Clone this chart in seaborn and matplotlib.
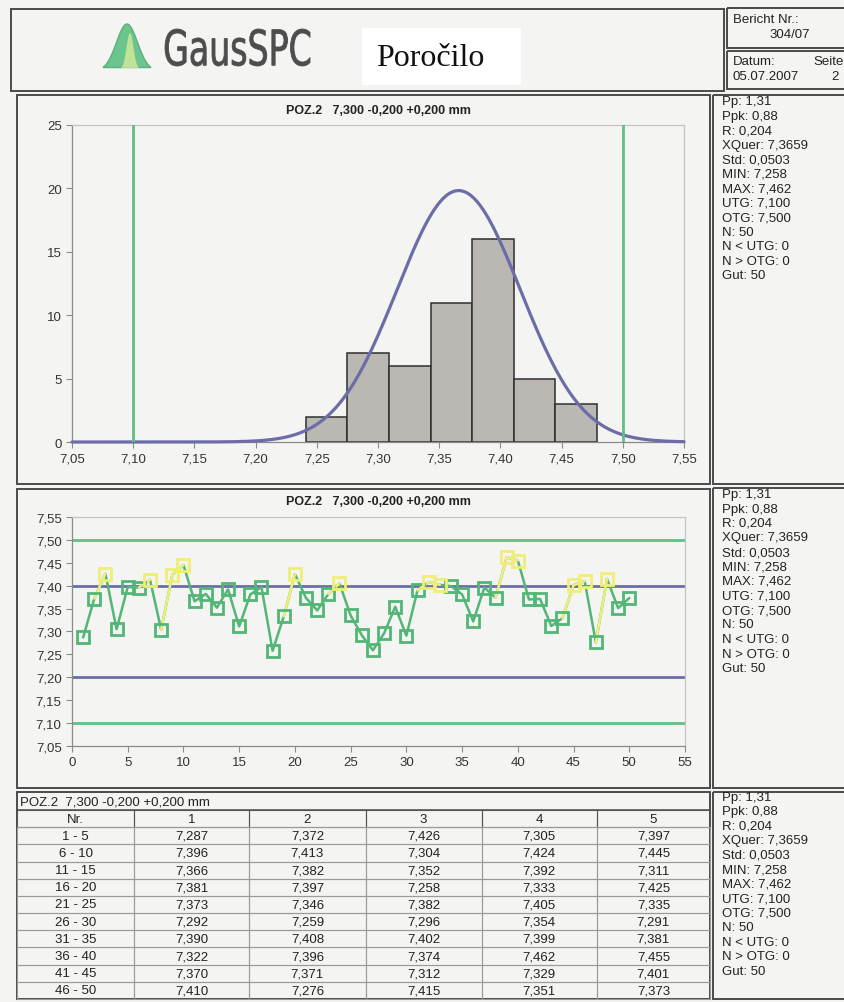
import matplotlib
matplotlib.use("Agg")
import matplotlib.pyplot as plt
import numpy as np
import pandas as pd
import seaborn as sns
from matplotlib.font_manager import FontProperties
from matplotlib.patches import PathPatch, Polygon, Rectangle
from matplotlib.textpath import TextPath
from matplotlib.ticker import FuncFormatter, MultipleLocator
from matplotlib.transforms import Affine2D

# Messwerte POZ.2 (Tabelle, je Zeile 5 Werte)
messwerte = [
    7.287, 7.372, 7.426, 7.305, 7.397,
    7.396, 7.413, 7.304, 7.424, 7.445,
    7.366, 7.382, 7.352, 7.392, 7.311,
    7.381, 7.397, 7.258, 7.333, 7.425,
    7.373, 7.346, 7.382, 7.405, 7.335,
    7.292, 7.259, 7.296, 7.354, 7.291,
    7.390, 7.408, 7.402, 7.399, 7.381,
    7.322, 7.396, 7.374, 7.462, 7.455,
    7.370, 7.371, 7.312, 7.329, 7.401,
    7.410, 7.276, 7.415, 7.351, 7.373,
]
zeilen_nr = ['1 - 5', '6 - 10', '11 - 15', '16 - 20', '21 - 25',
             '26 - 30', '31 - 35', '36 - 40', '41 - 45', '46 - 50']
spalten = ['Nr.', '1', '2', '3', '4', '5']
kennwerte = ['Pp: 1,31', 'Ppk: 0,88', 'R: 0,204', 'XQuer: 7,3659', 'Std: 0,0503',
             'MIN: 7,258', 'MAX: 7,462', 'UTG: 7,100', 'OTG: 7,500', 'N: 50',
             'N < UTG: 0', 'N > OTG: 0', 'Gut: 50']
titel = 'POZ.2   7,300 -0,200 +0,200 mm'
utg, otg = 7.100, 7.500
eingriff = [7.20, 7.40]
xquer, std = 7.3659, 0.0503
klassen = np.linspace(7.241, 7.479, 8)  # Klassengrenzen Histogramm

W, H = 845, 1003
PAGE = '#f4f4f2'
GRUEN = '#5fbf85'
GELB = '#eeee78'
BLAU = '#6c6da8'
RAHMEN = '#4a4a4a'

sns.set_theme(style='ticks')
plt.rcParams['font.family'] = ['Liberation Sans', 'DejaVu Sans']

fig = plt.figure(figsize=(W / 100, H / 100), dpi=100, facecolor=PAGE)


def px_axes(l, t, r, b):
    return fig.add_axes([l / W, 1 - b / H, (r - l) / W, (b - t) / H])


def komma(fmt):
    return FuncFormatter(lambda v, _: format(v, fmt).replace('.', ','))


# Hintergrund / Rahmen in Pixelkoordinaten
bg = fig.add_axes([0, 0, 1, 1])
bg.set_xlim(0, W)
bg.set_ylim(H, 0)
bg.axis('off')
bg.set_zorder(-1)

boxen = [(11, 10, 724, 92), (727, 9, 850, 49), (727, 52, 850, 90),
         (17, 96, 710, 485), (713, 96, 850, 485),
         (17, 490, 710, 789), (713, 489, 850, 789),
         (17, 793, 710, 1000), (713, 793, 850, 1000)]
for l, t, r, b in boxen:
    bg.add_patch(Rectangle((l, t), r - l, b - t, fill=False, ec=RAHMEN, lw=1.4))

# Kopf: Logo
xs = np.linspace(-1, 1, 60)
glocke = np.column_stack([127 + 24 * xs, 72 - 47 * np.exp(-2.6 * xs ** 2)])
bg.add_patch(Polygon(glocke, closed=True, fc='#6cc58e', ec='#58b27a', lw=1))
innen = np.column_stack([130 + 9 * xs, 70 - 36 * np.exp(-3.5 * xs ** 2)])
bg.add_patch(Polygon(innen, closed=True, fc='#d6ec9a', ec='none', alpha=0.8))

tp = TextPath((0, 0), 'GausSPC', size=40, prop=FontProperties(family='DejaVu Sans'))
ext = tp.get_extents()
tr = (Affine2D().translate(-ext.x0, -ext.y0)
      .scale(145 / ext.width, -37 / ext.height).translate(165, 67))
bg.add_patch(PathPatch(tp, transform=tr + bg.transData, fc='#4d4d4d', ec='#4d4d4d', lw=0.6))

bg.add_patch(Rectangle((362, 29), 159, 57, fc='white', ec='none'))
bg.text(430, 58, 'Poročilo', family='Liberation Serif', fontsize=23,
        ha='center', va='center', color='#111')

kopf = dict(fontsize=9.5, color='#222', va='center')
bg.text(733, 20, 'Bericht Nr.:', ha='left', **kopf)
bg.text(790, 35, '304/07', ha='center', **kopf)
bg.text(733, 62, 'Datum:', ha='left', **kopf)
bg.text(813, 62, 'Seite:', ha='left', **kopf)
bg.text(733, 77, '05.07.2007', ha='left', **kopf)
bg.text(835, 77, '2', ha='center', **kopf)

# Kennwerte rechts
for y0 in (102, 495, 798):
    for i, s in enumerate(kennwerte):
        bg.text(722, y0 + i * 14.5, s, fontsize=9.5, color='#222', va='center', ha='left')


def stil(ax):
    ax.set_facecolor(PAGE)
    for s in ('top', 'right'):
        ax.spines[s].set_color('#c4c4c4')
    for s in ('left', 'bottom'):
        ax.spines[s].set_color('#8a8a8a')
    for s in ax.spines.values():
        s.set_linewidth(0.9)
    ax.tick_params(direction='out', length=4, width=0.8, color='#8a8a8a',
                   labelsize=9.5, labelcolor='#333', bottom=True, left=True)
    ax.set(xlabel='', ylabel='')
    ax.set_title(titel, fontsize=9, fontweight='bold', color='#222', pad=9)


# Histogramm
ax1 = px_axes(72, 126, 684, 443)
sns.histplot(x=messwerte, bins=klassen, color='#bbb7b3', edgecolor='#2e2e2e',
             linewidth=1.1, alpha=1, ax=ax1, zorder=2)
x_kurve = np.linspace(7.05, 7.55, 400)
y_kurve = len(messwerte) * 0.05 * np.exp(-0.5 * ((x_kurve - xquer) / std) ** 2) / (std * np.sqrt(2 * np.pi))
sns.lineplot(x=x_kurve, y=y_kurve, color=BLAU, lw=2.3, ax=ax1, zorder=3, clip_on=False)
for g in (utg, otg):
    ax1.axvline(g, color=GRUEN, lw=2, zorder=4)
ax1.set_xlim(7.05, 7.55)
ax1.set_ylim(0, 25)
ax1.xaxis.set_major_locator(MultipleLocator(0.05))
ax1.xaxis.set_major_formatter(komma('.2f'))
ax1.yaxis.set_major_locator(MultipleLocator(5))
stil(ax1)

# Regelkarte
ax2 = px_axes(72, 518, 685, 747)
df = pd.DataFrame({'Nr': np.arange(1, len(messwerte) + 1), 'Wert': messwerte})
df['hoch'] = df['Wert'] > eingriff[1]
for g in (utg, otg):
    ax2.axhline(g, color=GRUEN, lw=2, zorder=1)
for g in eingriff:
    ax2.axhline(g, color=BLAU, lw=2, zorder=1)
sns.lineplot(data=df, x='Nr', y='Wert', color='#52b676', lw=1.8, ax=ax2, zorder=2)
for i in df.index[df['hoch']]:
    if i > 0:
        ax2.plot(df['Nr'][i - 1:i + 1], df['Wert'][i - 1:i + 1], color=GELB, lw=1.8, zorder=3)
for flag, farbe in ((False, '#52b676'), (True, GELB)):
    d = df[df['hoch'] == flag]
    ax2.plot(d['Nr'], d['Wert'], 's', mfc='none', mec=farbe, ms=8, mew=2, zorder=4)
ax2.set_xlim(0, 55)
ax2.set_ylim(7.05, 7.55)
ax2.xaxis.set_major_locator(MultipleLocator(5))
ax2.yaxis.set_major_locator(MultipleLocator(0.05))
ax2.yaxis.set_major_formatter(komma('.2f'))
stil(ax2)

# Tabelle
bg.text(20, 803, titel.replace('   ', '  '), fontsize=9.5, color='#222', va='center', ha='left')
bg.plot([17, 710], [811, 811], color=RAHMEN, lw=1.1)
ax3 = px_axes(17, 811, 710, 1000)
ax3.axis('off')
werte_txt = [[format(v, '.3f').replace('.', ',') for v in messwerte[k * 5:(k + 1) * 5]]
             for k in range(len(zeilen_nr))]
zellen = [[nr] + w for nr, w in zip(zeilen_nr, werte_txt)]
breiten = np.array([117, 115, 116, 116, 115, 113], dtype=float)
tbl = ax3.table(cellText=zellen, colLabels=spalten, cellLoc='center',
                bbox=[0, 0, 1, 1], colWidths=list(breiten / breiten.sum()))
tbl.auto_set_font_size(False)
tbl.set_fontsize(9.5)
for (r, c), cell in tbl.get_celld().items():
    cell.set_facecolor('none')
    cell.set_edgecolor('#9a9a9a' if r > 0 else '#555')
    cell.set_linewidth(0.8)
    cell.get_text().set_color('#222')

fig.savefig('out.png', dpi=100, facecolor=PAGE)
